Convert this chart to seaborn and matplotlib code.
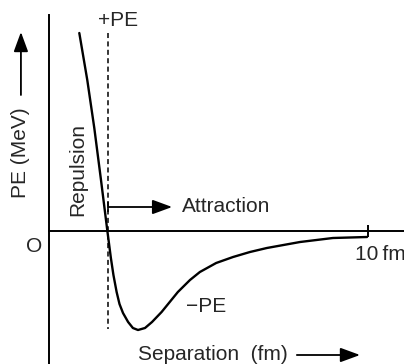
"""Nuclear potential energy vs separation (schematic). Saves out.png."""
import matplotlib
matplotlib.use("Agg")
import matplotlib.pyplot as plt
import pandas as pd
import seaborn as sns

# curve: separation (fm) and PE (arbitrary units)
separation = [0.95, 1.20, 1.42, 1.63, 1.83, 1.94, 2.02, 2.12, 2.21, 2.32,
              2.48, 2.63, 2.79, 3.01, 3.23, 3.53, 4.04, 4.42, 4.73, 5.24,
              5.77, 6.30, 6.83, 7.87, 8.90, 9.97]
potential = [19.8, 15.1, 10.3, 5.1, 0.0, -2.7, -4.4, -6.1, -7.3, -8.2,
             -9.1, -9.7, -9.9, -9.7, -9.1, -8.1, -6.1, -4.9, -4.1, -3.2,
             -2.6, -2.1, -1.7, -1.1, -0.7, -0.6]

# dashed marker at the zero crossing
dash_x = 1.85
dash_span = [19.8, -9.8]

x_tick = [10]
x_tick_label = "10\u2009fm"

df = pd.DataFrame({"r": separation, "pe": potential})

sns.set_theme(style="white")
plt.rcParams["font.family"] = ["Liberation Sans", "DejaVu Sans"]

fig = plt.figure(figsize=(4.04, 3.64), dpi=100)
ax = fig.add_axes([0, 0, 1, 1])
ax.set_xlim(-1.536, 11.129)
ax.set_ylim(-13.3, 23.1)

sns.lineplot(data=df, x="r", y="pe", color="black", linewidth=1.7,
             estimator=None, sort=False, ax=ax)
ax.plot([dash_x, dash_x], dash_span, color="black", lw=1.1,
        linestyle=(0, (3.3, 2.2)))

# axes through the origin
for side in ["top", "right"]:
    ax.spines[side].set_visible(False)
ax.spines["left"].set_position(("data", 0))
ax.spines["bottom"].set_position(("data", 0))
ax.spines["left"].set_bounds(-13.3, 21.6)
ax.spines["bottom"].set_bounds(0, 11.129)
for side in ["left", "bottom"]:
    ax.spines[side].set_color("black")
    ax.spines[side].set_linewidth(1.4)

ax.set_xticks(x_tick)
ax.set_xticklabels([""])
ax.set_yticks([])
ax.tick_params(axis="x", direction="inout", length=8.6, width=1.4,
               color="black", bottom=True)
ax.set_xlabel("")
ax.set_ylabel("")

fs = 15
ax.text(10.38, -2.4, x_tick_label, fontsize=fs, ha="center", va="center")
ax.text(-0.47, -1.6, "O", fontsize=fs, ha="center", va="center")
ax.text(2.16, 21.1, "+PE", fontsize=fs, ha="center", va="center")
ax.text(4.92, -7.6, "\u2212PE", fontsize=fs, ha="center", va="center")
ax.text(0.91, 6.15, "Repulsion", fontsize=fs, rotation=90,
        ha="center", va="center")
ax.text(4.17, 2.4, "Attraction", fontsize=fs, ha="left", va="center")
ax.text(-0.88, 7.85, "PE (MeV)", fontsize=fs, rotation=90,
        ha="center", va="center")
ax.text(2.79, -12.4, "Separation  (fm)", fontsize=fs, ha="left", va="center")

arrow = dict(arrowstyle="-|>,head_length=0.6,head_width=0.22",
             mutation_scale=20, color="black", lw=1.3,
             shrinkA=0, shrinkB=0)
ax.annotate("", xy=(3.86, 2.4), xytext=(dash_x, 2.4), arrowprops=arrow)
ax.plot([dash_x], [2.4], marker="|", markersize=7, color="black", mew=1.2)
ax.annotate("", xy=(-0.88, 19.9), xytext=(-0.88, 13.6), arrowprops=arrow)
ax.annotate("", xy=(9.75, -12.4), xytext=(7.77, -12.4), arrowprops=arrow)

fig.savefig("out.png", dpi=100)
plt.close(fig)
